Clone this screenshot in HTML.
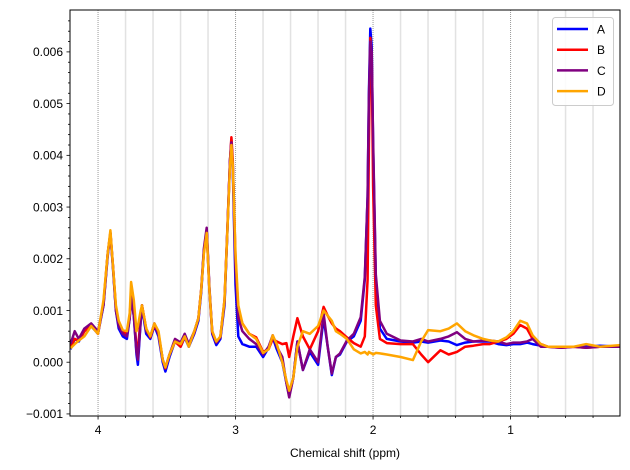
<!DOCTYPE html>
<html><head><meta charset="utf-8"><style>
body{margin:0;background:#fff;}
svg{display:block;font-family:"Liberation Sans","DejaVu Sans",sans-serif;}
</style></head><body>
<svg id="chart" width="630" height="470" viewBox="0 0 630 470" xmlns="http://www.w3.org/2000/svg"></svg>
<script>
const ppm = [4.20,4.17,4.14,4.10,4.05,4.00,3.96,3.93,3.91,3.89,
3.87,3.85,3.82,3.79,3.77,3.76,3.74,3.72,3.71,3.69,
3.68,3.65,3.62,3.59,3.56,3.53,3.51,3.48,3.44,3.40,
3.37,3.34,3.30,3.27,3.25,3.23,3.21,3.19,3.17,3.14,
3.11,3.08,3.06,3.04,3.03,3.02,3.00,2.98,2.95,2.90,
2.85,2.80,2.76,2.73,2.70,2.66,2.63,2.61,2.58,2.55,
2.51,2.46,2.40,2.36,2.33,2.30,2.27,2.24,2.19,2.14,
2.09,2.06,2.04,2.03,2.02,2.01,2.00,1.98,1.95,1.90,
1.80,1.71,1.65,1.60,1.51,1.45,1.39,1.33,1.27,1.20,
1.15,1.09,1.03,0.98,0.93,0.88,0.84,0.78,0.73,0.63,
0.54,0.45,0.35,0.20];
// values in units of 1e-3
const seriesA = [0.25,0.45,0.40,0.60,0.70,0.55,1.10,2.05,2.50,1.75,
1.00,0.65,0.50,0.45,0.85,1.30,0.90,0.15,-0.05,0.80,
1.05,0.55,0.45,0.70,0.50,0.00,-0.18,0.10,0.40,0.30,
0.48,0.30,0.55,0.80,1.35,2.15,2.55,1.40,0.55,0.33,
0.45,1.10,2.50,3.90,4.30,3.70,1.50,0.50,0.35,0.30,
0.30,0.10,0.28,0.48,0.25,0.00,-0.40,-0.65,-0.30,0.40,
-0.15,0.20,-0.05,0.85,0.30,-0.25,0.10,0.15,0.40,0.50,
0.80,1.60,3.20,5.20,6.45,6.10,4.20,1.60,0.65,0.45,
0.40,0.38,0.40,0.38,0.42,0.40,0.33,0.38,0.40,0.40,
0.40,0.35,0.33,0.35,0.35,0.38,0.35,0.32,0.30,0.30,
0.30,0.30,0.32,0.30];
const seriesB = [0.30,0.45,0.42,0.60,0.72,0.55,1.15,2.10,2.50,1.80,
1.05,0.75,0.60,0.55,0.90,1.30,0.95,0.30,0.20,0.90,
1.10,0.65,0.48,0.72,0.55,0.05,-0.12,0.15,0.40,0.30,
0.50,0.32,0.58,0.85,1.40,2.15,2.55,1.40,0.58,0.38,
0.50,1.20,2.55,3.90,4.35,3.90,2.00,1.00,0.75,0.55,
0.48,0.20,0.25,0.45,0.40,0.35,0.37,0.10,0.50,0.85,
0.50,0.25,0.60,1.07,0.90,0.75,0.65,0.60,0.48,0.37,
0.30,0.50,1.60,4.20,6.27,5.90,3.40,1.10,0.45,0.37,
0.35,0.35,0.15,0.00,0.23,0.15,0.20,0.30,0.32,0.35,
0.35,0.40,0.45,0.55,0.72,0.65,0.45,0.35,0.30,0.28,
0.30,0.28,0.30,0.30];
const seriesC = [0.35,0.60,0.45,0.65,0.75,0.60,1.10,2.10,2.50,1.80,
1.00,0.70,0.55,0.50,0.85,1.25,0.90,0.20,0.05,0.80,
1.10,0.60,0.50,0.75,0.55,0.05,-0.10,0.15,0.45,0.38,
0.55,0.35,0.60,0.85,1.40,2.20,2.60,1.45,0.60,0.38,
0.48,1.15,2.50,3.90,4.25,3.80,1.80,0.85,0.60,0.45,
0.35,0.15,0.30,0.52,0.30,0.10,-0.40,-0.68,-0.30,0.40,
-0.15,0.25,0.00,0.95,0.30,-0.22,0.10,0.17,0.42,0.55,
0.87,1.65,3.20,5.10,6.20,6.00,4.30,1.70,0.80,0.55,
0.42,0.40,0.45,0.40,0.45,0.50,0.58,0.45,0.40,0.42,
0.42,0.40,0.35,0.38,0.38,0.40,0.45,0.30,0.30,0.28,
0.30,0.28,0.30,0.30];
const seriesD = [0.27,0.35,0.42,0.50,0.70,0.55,1.20,2.10,2.55,1.80,
1.10,0.80,0.62,0.60,0.95,1.55,1.20,0.60,0.70,1.00,
1.10,0.65,0.50,0.75,0.60,0.05,-0.10,0.15,0.40,0.35,
0.50,0.30,0.60,0.85,1.40,2.10,2.50,1.40,0.60,0.40,
0.50,1.20,2.50,3.80,4.20,3.80,2.10,1.10,0.75,0.55,
0.45,0.18,0.25,0.52,0.35,0.00,-0.35,-0.55,-0.30,0.30,
0.60,0.55,0.70,1.00,0.90,0.80,0.60,0.55,0.45,0.25,
0.17,0.20,0.15,0.20,0.18,0.17,0.15,0.18,0.17,0.15,
0.10,0.04,0.40,0.62,0.60,0.65,0.75,0.60,0.52,0.45,
0.42,0.40,0.48,0.60,0.80,0.75,0.52,0.35,0.30,0.30,
0.30,0.35,0.30,0.33];
const seriesNames = ["A","B","C","D"];
const seriesColors = ["#0000ff","#ff0000","#800080","#ffa500"];
const xTickValues = [4,3,2,1];
const yTickValues = [-1,0,1,2,3,4,5,6];
const yTickLabels = ["\u22120.001","0.000","0.001","0.002","0.003","0.004","0.005","0.006"];

const L=70,R=620,T=10,B=416;
const X0=4.204,X1=0.204,Y0=-1.04,Y1=6.81;
const xs=v=>L+(X0-v)/(X0-X1)*(R-L);
const ys=v=>B-(v-Y0)/(Y1-Y0)*(B-T);
const NS="http://www.w3.org/2000/svg";
const svg=document.getElementById('chart');
function mk(tag,attrs,parent){const e=document.createElementNS(NS,tag);for(const k in attrs)e.setAttribute(k,attrs[k]);(parent||svg).appendChild(e);return e;}

const grid=mk('g',{});


for(let i=1;i<=20;i++){const v=+(i*0.2).toFixed(1);const x=xs(v);if(x<L||x>R)continue;
 const major=Math.abs(v-Math.round(v))<1e-6;
 const ln=mk('line',{x1:x,x2:x,y1:T,y2:B,stroke:major?'#999':'#e2e2e2','stroke-width':major?1:1.5,'stroke-dasharray':major?'1,1':'none'},grid);
 
 
}

const allSeries=[seriesA,seriesB,seriesC,seriesD];
const clip=mk('clipPath',{id:'pc'});mk('rect',{x:L,y:T,width:R-L,height:B-T},clip);
allSeries.forEach((s,si)=>{
 const d=s.map((v,i)=>(i?'L':'M')+xs(ppm[i]).toFixed(1)+','+ys(v).toFixed(1)).join(' ');
 const p=mk('path',{d:d,fill:'none',stroke:seriesColors[si],'stroke-width':2.5,'stroke-linejoin':'round','clip-path':'url(#pc)'});
 
 
});

const box=mk('rect',{x:L,y:T,width:R-L,height:B-T,fill:'none',stroke:'#000','stroke-width':1});



for(let i=1;i<=20;i++){const v=+(i*0.2).toFixed(1);const x=xs(v);if(x<L||x>R)continue;
 const major=Math.abs(v-Math.round(v))<1e-6;
 const t=mk('line',{x1:x,x2:x,y1:B,y2:B+(major?3.5:2),stroke:'#000','stroke-width':0.8});
 
 
}
xTickValues.forEach(v=>{const t=mk('text',{x:xs(v),y:B+18,'text-anchor':'middle','font-size':12});t.textContent=String(v);
 
 });
const xt=mk('text',{x:345,y:457,'text-anchor':'middle','font-size':12});xt.textContent='Chemical shift (ppm)';



for(let v=-1;v<=6.8;v+=0.2){const y=ys(v);if(y<T||y>B)continue;
 const major=Math.abs(v-Math.round(v))<1e-6;
 const t=mk('line',{x1:L,x2:L-(major?3.5:2),y1:y,y2:y,stroke:'#000','stroke-width':0.8});
 
 
}
yTickValues.forEach((v,i)=>{const t=mk('text',{x:L-7,y:ys(v)+4.3,'text-anchor':'end','font-size':12});t.textContent=yTickLabels[i];
 
 });

const lg=mk('g',{});


mk('rect',{x:552.5,y:17.5,width:61,height:88,rx:3,fill:'#fff','fill-opacity':0.85,stroke:'#ccc','stroke-width':1},lg);
seriesNames.forEach((n,i)=>{const y=29+i*20.7;
 const e=mk('g',{},lg);
 
 
 mk('line',{x1:557,x2:588,y1:y,y2:y,stroke:seriesColors[i],'stroke-width':2.5},e);
 const t=mk('text',{x:597,y:y+4.5,'font-size':12},e);t.textContent=n;});
</script>
</body></html>
